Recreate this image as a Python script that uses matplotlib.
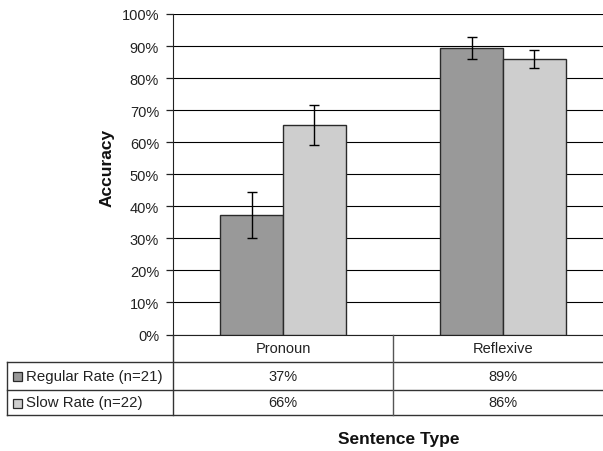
import matplotlib
matplotlib.use("Agg")
import matplotlib.pyplot as plt
from matplotlib.patches import Rectangle

categories = ["Pronoun", "Reflexive"]
series_names = ["Regular Rate (n=21)", "Slow Rate (n=22)"]
regular = [37.2, 89.4]
slow = [65.4, 85.9]
regular_err = [7.2, 3.3]
slow_err = [6.2, 2.9]
regular_labels = ["37%", "89%"]
slow_labels = ["66%", "86%"]
yticks = [0, 10, 20, 30, 40, 50, 60, 70, 80, 90, 100]
ytick_labels = [f"{v}%" for v in yticks]

plt.rcParams['font.family'] = ['Liberation Sans', 'DejaVu Sans']

W, H = 603, 452
fig = plt.figure(figsize=(W / 100, H / 100), dpi=100)

def fx(px):
    return px / W

def fy(py):
    return 1 - py / H

ax_left, ax_right, ax_top, ax_bot = 173, 613, 15, 335.5
ax = fig.add_axes([fx(ax_left), fy(ax_bot), fx(ax_right - ax_left), (ax_bot - ax_top) / H])
ax.set_xlim(-0.5, 1.5)
ax.set_ylim(0, 100)

colors = ["#999999", "#cecece"]
edge = "#2a2a2a"
bw = 0.286
xs = list(range(len(categories)))
for vals, errs, off, c in [(regular, regular_err, -0.143, colors[0]), (slow, slow_err, 0.143, colors[1])]:
    pos = [x + off for x in xs]
    ax.bar(pos, vals, width=bw, color=c, edgecolor=edge, linewidth=1.0, zorder=3)
    ax.errorbar(pos, vals, yerr=errs, fmt='none', ecolor='black', elinewidth=1.0,
                capsize=3.4, capthick=1.0, zorder=4)

ax.set_yticks(yticks)
ax.set_yticklabels(ytick_labels, fontsize=10.5, color='#222222')
ax.yaxis.grid(True, color='black', linewidth=0.8, zorder=0)
ax.set_axisbelow(True)
ax.tick_params(axis='y', direction='out', length=5, width=0.9, pad=5, colors='#222222', labelcolor='#222222')
ax.set_xticks([])
for s in ['top', 'right']:
    ax.spines[s].set_visible(False)
ax.spines['left'].set_color('#222222')
ax.spines['bottom'].set_color('#222222')

fig.text(fx(107.5), fy(168), "Accuracy", rotation=90, ha='center', va='center',
         fontsize=12.5, fontweight='bold', color='#111111')

# Data table below the plot, in pixel coordinates
tab = fig.add_axes([0, 0, 1, 1], facecolor='none')
tab.set_xlim(0, W)
tab.set_ylim(H, 0)
tab.axis('off')

lc = '#333333'
row_lines = [363.3, 391, 416]
left_x = 7.3
sep_x = 392.7
for y in row_lines:
    tab.plot([left_x, W], [y, y], color=lc, linewidth=1.0)
tab.plot([left_x, left_x], [row_lines[0], row_lines[-1]], color=lc, linewidth=1.0)
tab.plot([ax_left, ax_left], [ax_bot, row_lines[-1]], color=lc, linewidth=1.0)
tab.plot([sep_x, sep_x], [ax_bot, row_lines[-1]], color='#555555', linewidth=1.0)

cat_px = [ax_left + (x + 0.5) * (ax_right - ax_left) / 2 for x in xs]
row_c = [(ax_bot + row_lines[0]) / 2, (row_lines[0] + row_lines[1]) / 2, (row_lines[1] + row_lines[2]) / 2]
fs = 10.5
for i, cat in enumerate(categories):
    tab.text(cat_px[i], row_c[0], cat, ha='center', va='center', fontsize=fs, color='#222222')
    tab.text(cat_px[i], row_c[1], regular_labels[i], ha='center', va='center', fontsize=fs, color='#222222')
    tab.text(cat_px[i], row_c[2], slow_labels[i], ha='center', va='center', fontsize=fs, color='#222222')

for j, name in enumerate(series_names):
    yc = row_c[j + 1]
    tab.add_patch(Rectangle((12.5, yc - 4), 9, 9, facecolor=colors[j], edgecolor=edge, linewidth=0.9))
    tab.text(26, yc, name, ha='left', va='center', fontsize=10.8, color='#222222')

fig.text(fx(399), fy(440), "Sentence Type", ha='center', va='center',
         fontsize=12.5, fontweight='bold', color='#111111')

fig.savefig("out.png", dpi=100)
